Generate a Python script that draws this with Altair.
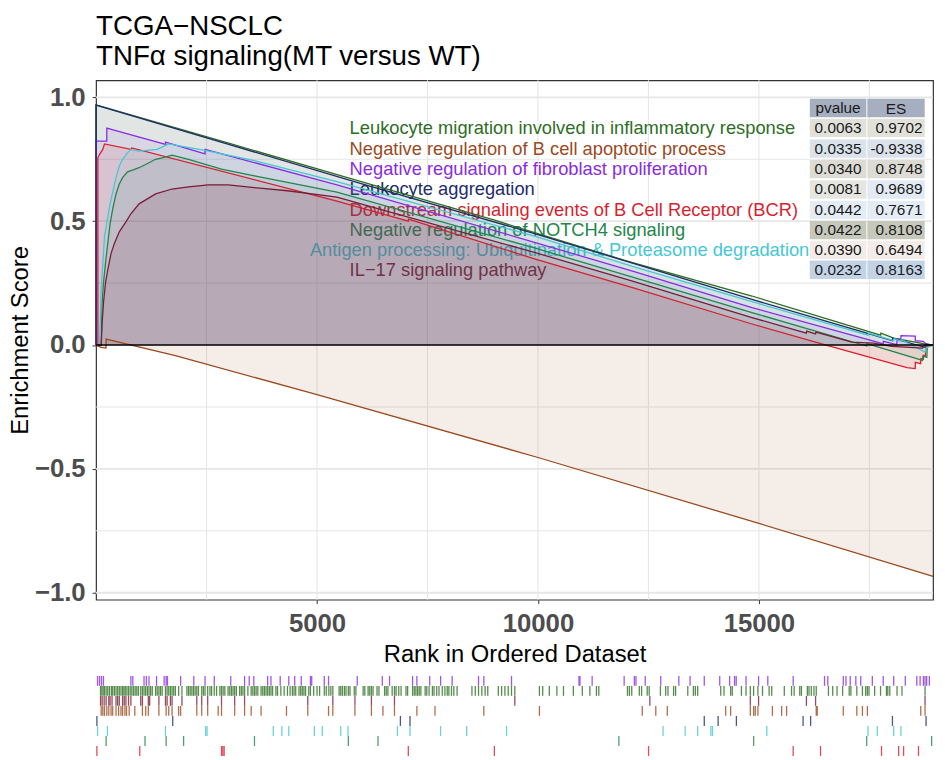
import altair as alt
import pandas as pd

FONT = "Liberation Sans"

# ---------------- gene sets, colours, statistics ----------------
set_names = [
    "Leukocyte migration involved in inflammatory response",
    "Negative regulation of B cell apoptotic process",
    "Negative regulation of fibroblast proliferation",
    "Leukocyte aggregation",
    "Downstream signaling events of B Cell Receptor (BCR)",
    "Negative regulation of NOTCH4 signaling",
    "Antigen processing: Ubiquitination & Proteasome degradation",
    "IL\u221217 signaling pathway",
]
set_colors = ["#2c6e1f", "#9a4a1e", "#8a2be2", "#1e2c69", "#d81f2f", "#22864a", "#45c7d7", "#7b1d36"]
fill_alpha = [0.07, 0.10, 0.08, 0.07, 0.10, 0.07, 0.07, 0.12]
pvalues = ["0.0063", "0.0335", "0.0340", "0.0081", "0.0442", "0.0422", "0.0390", "0.0232"]
es_values = ["0.9702", "-0.9338", "0.8748", "0.9689", "0.7671", "0.8108", "0.6494", "0.8163"]
table_header = ["pvalue", "ES"]
table_fill_p = ["#e1e1da", "#dae2eb", "#dcdcd4", "#e6e6e0", "#e4ecf5", "#c6c8bc", "#f4ece8", "#c3d3e6"]
table_fill_es = ["#e1e1da", "#dae2eb", "#dcdcd4", "#e2eaf4", "#e4ecf5", "#c6c8bc", "#f4ece8", "#c3d3e6"]
header_fill = "#a6afbf"

# ---------------- running enrichment score curves (rank, ES) ----------------
migration_rank = [0, 0, 3000, 6000, 9000, 12000, 14843, 17752, 17760, 18051, 18722, 18940]
migration_es = [0, 0.970, 0.815, 0.660, 0.505, 0.340, 0.198, 0.040, 0.048, 0.028, 0.006, 0]

bcell_rank = [0, 116, 225, 228, 1795, 5000, 10000, 15000, 18940]
bcell_es = [0, -0.009, -0.012, 0.024, -0.043, -0.200, -0.454, -0.720, -0.934]

fibro_rank = [0, 0, 243, 243, 1571, 1571, 2466, 2466, 5450, 9921, 12159, 14843, 17678,
              17812, 17816, 18120, 18125, 18210, 18215, 18536, 18540, 18720, 18800, 18940]
fibro_es = [0, 0.823, 0.823, 0.876, 0.810, 0.819, 0.772, 0.790, 0.647, 0.415, 0.297, 0.151, 0.012,
            0.005, 0.015, 0.002, 0.025, 0.022, 0.038, 0.036, 0.018, 0.015, 0.0, 0]

aggr_rank = [0, 0, 3000, 6000, 9921, 12159, 14843, 18021, 18030, 18770, 18782, 18940]
aggr_es = [0, 0.969, 0.810, 0.652, 0.450, 0.330, 0.184, 0.018, 0.028, -0.010, 0.004, 0]

bcr_rank = [0, 41, 41, 79, 153, 191, 788, 810, 5450, 7066, 7070, 9921, 12159, 14843, 16521,
            18349, 18536, 18540, 18660, 18665, 18720, 18725, 18770, 18775, 18940]
bcr_es = [0, 0, 0.756, 0.770, 0.790, 0.812, 0.790, 0.796, 0.581, 0.500, 0.508, 0.348, 0.231, 0.085, 0.0,
          -0.091, -0.095, -0.070, -0.075, -0.055, -0.058, -0.042, -0.045, -0.009, 0]

notch_rank = [0, 116, 138, 168, 213, 265, 318, 377, 452, 526, 601, 713, 825, 974, 1198, 1347, 1496,
              1720, 2093, 2839, 3585, 5450, 9921, 12159, 14843, 17439, 17445, 18700, 18710, 18800, 18810, 18940]
notch_es = [0, 0, 0.170, 0.250, 0.330, 0.410, 0.490, 0.550, 0.610, 0.650, 0.676, 0.699, 0.706, 0.716,
            0.736, 0.750, 0.756, 0.767, 0.750, 0.710, 0.683, 0.617, 0.392, 0.273, 0.131, -0.004, 0.006,
            -0.062, -0.045, -0.050, 0.0, 0]

antigen_rank = [0, 79, 100, 116, 153, 191, 265, 318, 377, 452, 526, 601, 713, 788, 974, 1384, 1645,
                1944, 2466, 3585, 5450, 9921, 12159, 14843, 17469, 17480, 18050, 18060, 18214, 18220,
                18760, 18780, 18940]
antigen_es = [0, 0, 0.120, 0.224, 0.330, 0.437, 0.517, 0.570, 0.617, 0.676, 0.723, 0.750, 0.776, 0.790,
              0.783, 0.790, 0.812, 0.802, 0.786, 0.745, 0.660, 0.440, 0.317, 0.175, 0.040, 0.048, 0.018,
              0.026, 0.016, 0.022, -0.028, -0.012, 0]

il17_rank = [0, 116, 138, 168, 213, 265, 340, 415, 526, 676, 788, 974, 1161, 1347, 1720, 2093, 2541,
             2988, 3585, 4331, 5450, 9921, 12159, 14843, 16074, 16080, 16282, 16290, 17100, 17600,
             18000, 18700, 18760, 18940]
il17_es = [0, 0, 0.091, 0.170, 0.250, 0.304, 0.370, 0.410, 0.457, 0.497, 0.530, 0.570, 0.590, 0.610,
           0.630, 0.639, 0.647, 0.647, 0.636, 0.623, 0.597, 0.374, 0.257, 0.111, 0.048, 0.056, 0.045,
           0.052, 0.012, 0.008, -0.005, -0.012, 0.0, 0]

curve_ranks = [migration_rank, bcell_rank, fibro_rank, aggr_rank, bcr_rank, notch_rank, antigen_rank, il17_rank]
curve_es = [migration_es, bcell_es, fibro_es, aggr_es, bcr_es, notch_es, antigen_es, il17_es]

# ---------------- gene positions (rug) ----------------
rug_fibro = [34, 79, 124, 168, 788, 832, 1086, 1138, 1198, 1369, 1541, 1586, 1616, 1914, 2212, 2466, 2675,
             3048, 3361, 3466, 3570, 3883, 3958, 4167, 4361, 4495, 4644, 4851, 4880, 5164, 5261, 5910, 6477,
             6641, 7163, 7260, 7551, 7797, 8058, 8655, 8775, 9401, 10928, 10950, 11226, 11950, 12181, 12218,
             12427, 12778, 13188, 13442, 13763, 14113, 14337, 14449, 14486, 14708, 14992, 15201, 15775,
             16484, 16558, 16909, 16969, 17066, 17193, 17304, 17566, 17812, 18050, 18312, 18573, 18647,
             18722, 18759, 18796, 18856]
rug_migration = [101, 131, 161, 191, 228, 265, 303, 347, 377, 415, 452, 489, 526, 564, 601, 631, 661, 698,
                 735, 773, 810, 847, 885, 922, 959, 1011, 1049, 1086, 1123, 1161, 1198, 1235, 1272, 1347,
                 1384, 1422, 1459, 1496, 1571, 1608, 1645, 1683, 1720, 1757, 1795, 1869, 1944, 2056, 2093,
                 2130, 2168, 2205, 2242, 2280, 2317, 2391, 2429, 2466, 2526, 2578, 2615, 2675, 2727, 2802,
                 2839, 2876, 2914, 2988, 3026, 3063, 3100, 3137, 3175, 3249, 3287, 3324, 3361, 3436, 3510,
                 3548, 3585, 3622, 3660, 3734, 3772, 3809, 3846, 3883, 3921, 3958, 3995, 4070, 4107, 4182,
                 4256, 4331, 4391, 4443, 4480, 4518, 4592, 4630, 4667, 4704, 4741, 4813, 4851, 4925, 5000,
                 5059, 5164, 5209, 5268, 5313, 5358, 5500, 5537, 5574, 5619, 5656, 5709, 5746, 5843, 5880,
                 6044, 6082, 6156, 6193, 6231, 6268, 6358, 6402, 6529, 6566, 6604, 6701, 6753, 6790, 6850,
                 6902, 7014, 7051, 7163, 7201, 7238, 7275, 7312, 7350, 7447, 7484, 7536, 7611, 7648, 7708,
                 7760, 7835, 7894, 7947, 7984, 8043, 8096, 8170, 8506, 8581, 8655, 8730, 8804, 8864, 9103,
                 9177, 9252, 9327, 9401, 9476, 10033, 10107, 10257, 10428, 10577, 10801, 11003, 11174, 11323,
                 11376, 12025, 12069, 12122, 12293, 12345, 12472, 12517, 12771, 12890, 12942, 13069, 13114,
                 13390, 13517, 13561, 13614, 14136, 14210, 14360, 14397, 14604, 14708, 14805, 14880, 14977,
                 15081, 15231, 15290, 15574, 15738, 15797, 15924, 15962, 16096, 16133, 16185, 16245, 16297,
                 16573, 16670, 16767, 16894, 17043, 17081, 17215, 17342, 17416, 17454, 17491, 17618, 17752,
                 17886, 17916, 17961, 18125, 18237, 18759]
rug_il17 = [101, 138, 183, 228, 288, 318, 362, 452, 489, 526, 601, 638, 676, 735, 788, 1011, 1049, 1183,
            1213, 1422, 1571, 1608, 1683, 1720, 1944, 2280, 2391, 2526, 2839, 3137, 3361, 4791, 5358, 5858,
            6231, 6753, 9476, 12532, 14805, 14992, 16074, 16282, 18759]
rug_bcell = [116, 153, 191, 243, 288, 340, 377, 452, 511, 564, 601, 653, 690, 750, 877, 1049, 1123, 1183,
             1422, 1586, 1645, 1720, 1869, 1914, 2280, 2391, 2526, 2764, 2839, 3137, 3361, 3510, 3734, 4309,
             4791, 5261, 5358, 5858, 6231, 6492, 6753, 7260, 7670, 8775, 10033, 12360, 12666, 12927, 14248,
             14360, 14805, 14880, 14917, 14977, 15305, 15514, 15626, 16297, 16320, 16909, 17215, 17342,
             17454, 18662, 18759]
rug_aggr = [19, 1735, 6887, 7104, 13763, 14076, 14490, 15999, 16170, 18021, 18782]
rug_antigen = [34, 258, 1571, 2481, 2511, 4010, 4204, 4361, 4940, 5119, 5537, 5701, 6820, 7104, 7797, 8387,
               9289, 12830, 13330, 13614, 13912, 13949, 15178, 17469, 17678, 18050, 18214]
rug_notch = [228, 1108, 1586, 1981, 3585, 5709, 6380, 11831, 14880, 17439, 18908]
rug_bcr = [19, 989, 2839, 2869, 2899, 7066, 9013, 12502, 15775, 16394, 17774, 18162, 18274, 18610]

rug_sets = [rug_fibro, rug_migration, rug_il17, rug_bcell, rug_aggr, rug_antigen, rug_notch, rug_bcr]
rug_order = [set_names[2], set_names[0], set_names[7], set_names[1], set_names[3], set_names[6],
             set_names[5], set_names[4]]

# ---------------- axis ticks / grid ----------------
x_ticks = [5000, 10000, 15000]
y_ticks = [-1.0, -0.5, 0.0, 0.5, 1.0]
x_grid = [2500, 5000, 7500, 10000, 12500, 15000, 17500]
y_grid_major = [-1.0, -0.5, 0.5, 1.0]
y_grid_minor = [-0.75, -0.25, 0.25, 0.75]
x_domain = [0, 18940]
y_domain = [-1.028, 1.069]

# ---------------- annotation layout (data units) ----------------
row_y = [0.877, 0.793, 0.710, 0.628, 0.545, 0.464, 0.384, 0.304]
header_y = 0.957
half_h = 0.037
label_left_x = 5738
label_right_x = 16140
col_p = (16151, 17431)
col_es = (17453, 18751)
p_text_x = 16790
es_text_x = 18700

# ---------------- tables for the library ----------------
curve_frames = []
for name, rks, vals in zip(set_names, curve_ranks, curve_es):
    curve_frames.append(pd.DataFrame({"set": name, "rank": rks, "es": vals, "i": list(range(len(rks)))}))
curves = pd.concat(curve_frames, ignore_index=True)

rug_rows = []
for name, rks in zip(rug_order, rug_sets):
    for r in rks:
        rug_rows.append({"set": name, "rank": r})
rug = pd.DataFrame(rug_rows)

right_labels = [6]
labels_l = pd.DataFrame({"set": [s for k, s in enumerate(set_names) if k not in right_labels],
                         "x": label_left_x,
                         "y": [y for k, y in enumerate(row_y) if k not in right_labels]})
labels_r = pd.DataFrame({"set": [set_names[k] for k in right_labels],
                         "x": label_right_x,
                         "y": [row_y[k] for k in right_labels]})

cells = []
cells.append({"x1": col_p[0], "x2": col_p[1], "y1": header_y - half_h, "y2": header_y + half_h, "fill": header_fill})
cells.append({"x1": col_es[0], "x2": col_es[1], "y1": header_y - half_h, "y2": header_y + half_h, "fill": header_fill})
for j in range(len(pvalues)):
    cells.append({"x1": col_p[0], "x2": col_p[1], "y1": row_y[j] - half_h, "y2": row_y[j] + half_h, "fill": table_fill_p[j]})
    cells.append({"x1": col_es[0], "x2": col_es[1], "y1": row_y[j] - half_h, "y2": row_y[j] + half_h, "fill": table_fill_es[j]})
cells = pd.DataFrame(cells)

ptext = pd.DataFrame({"x": [p_text_x] * (len(pvalues) + 1), "y": [header_y] + row_y, "t": [table_header[0]] + pvalues})
estext = pd.DataFrame({"x": [es_text_x] * len(es_values), "y": row_y, "t": es_values})
eshead = pd.DataFrame({"x": [18100], "y": [header_y - 0.004], "t": [table_header[1]]})

# ---------------- encodings ----------------
xscale = alt.Scale(domain=x_domain, nice=False, zero=False)
yscale = alt.Scale(domain=y_domain, nice=False, zero=False)
xaxis = alt.Axis(title="Rank in Ordered Dataset", values=x_ticks, format="d", grid=False, domain=False,
                 labelFont=FONT, labelFontSize=26, labelFontWeight="bold", labelColor="#4d4d4d",
                 tickColor="#333333", tickSize=4, tickWidth=1, labelPadding=7,
                 titleFont=FONT, titleFontSize=24, titleFontWeight="normal", titleColor="black", titlePadding=6)
yaxis = alt.Axis(title="Enrichment Score", values=y_ticks, format=".1f", grid=False, domain=False,
                 labelFont=FONT, labelFontSize=26, labelFontWeight="bold", labelColor="#4d4d4d",
                 tickColor="#333333", tickSize=4, tickWidth=1, labelPadding=7,
                 titleFont=FONT, titleFontSize=24, titleFontWeight="normal", titleColor="black", titlePadding=2)


def X(f):
    return alt.X(f, type="quantitative", scale=xscale, axis=xaxis)


def Y(f):
    return alt.Y(f, type="quantitative", scale=yscale, axis=yaxis)


color = alt.Color("set:N", scale=alt.Scale(domain=set_names, range=set_colors), legend=None)

gx = alt.Chart(pd.DataFrame({"g": x_grid})).mark_rule(color="#e6e6e6", strokeWidth=1.1).encode(x=X("g"))
gy1 = alt.Chart(pd.DataFrame({"g": y_grid_major})).mark_rule(color="#e6e6e6", strokeWidth=1.8).encode(y=Y("g"))
gy2 = alt.Chart(pd.DataFrame({"g": y_grid_minor})).mark_rule(color="#e6e6e6", strokeWidth=1.1).encode(y=Y("g"))

label_l_layer = alt.Chart(labels_l).mark_text(font=FONT, fontSize=18.5, align="left", baseline="middle").encode(
    x=X("x"), y=Y("y"), text="set:N", color=color)
label_r_layer = alt.Chart(labels_r).mark_text(font=FONT, fontSize=18.5, align="right", baseline="middle").encode(
    x=X("x"), y=Y("y"), text="set:N", color=color)

area_layers = []
for frame, col, a in zip(curve_frames, set_colors, fill_alpha):
    area_layers.append(alt.Chart(frame).mark_area(color=col, opacity=a).encode(
        x=X("rank"), y=Y("es"), y2=alt.datum(0)))

lines = alt.Chart(curves).mark_line(strokeWidth=1.3).encode(
    x=X("rank"), y=Y("es"), color=color, order=alt.Order("i:Q"))
zero = alt.Chart(pd.DataFrame({"z": [0.0]})).mark_rule(color="black", strokeWidth=1.5).encode(y=Y("z"))

cell_layer = alt.Chart(cells).mark_rect().encode(
    x=X("x1"), x2="x2", y=Y("y1"), y2="y2", fill=alt.Fill("fill:N", scale=None))
p_layer = alt.Chart(ptext).mark_text(font=FONT, fontSize=15.5, color="#1a1a1a", align="center", baseline="middle").encode(
    x=X("x"), y=Y("y"), text="t:N")
es_layer = alt.Chart(estext).mark_text(font=FONT, fontSize=15.5, color="#1a1a1a", align="right", baseline="middle").encode(
    x=X("x"), y=Y("y"), text="t:N")
esh_layer = alt.Chart(eshead).mark_text(font=FONT, fontSize=15.5, color="#1a1a1a", align="center", baseline="middle").encode(
    x=X("x"), y=Y("y"), text="t:N")

main = alt.layer(gx, gy1, gy2, label_l_layer, label_r_layer, *area_layers, lines, zero,
                 cell_layer, p_layer, es_layer, esh_layer).properties(
    width=846, height=525,
    title=alt.TitleParams(text=["TCGA\u2212NSCLC", "TNF\u03b1 signaling(MT versus WT)"], anchor="start", frame="group",
                          font=FONT, fontSize=28, fontWeight="normal", color="black", lineHeight=30, offset=9),
)

rug_chart = alt.Chart(rug).mark_tick(orient="vertical", thickness=1.3, size=10, opacity=0.8).encode(
    x=alt.X("rank:Q", scale=alt.Scale(domain=x_domain, nice=False, zero=False), axis=None),
    y=alt.Y("set:N", sort=rug_order, scale=alt.Scale(domain=rug_order, paddingInner=0, paddingOuter=0), axis=None),
    color=color,
).properties(width=846, height=81, view=alt.ViewBackground(strokeWidth=0))

chart = alt.vconcat(main, rug_chart, spacing=9).properties(
    padding={"left": 0, "right": 0, "top": 0, "bottom": 0}
).configure_view(stroke="#333333", strokeWidth=1.2)

chart.save("out.html", embed_options={"renderer": "svg", "actions": False})
